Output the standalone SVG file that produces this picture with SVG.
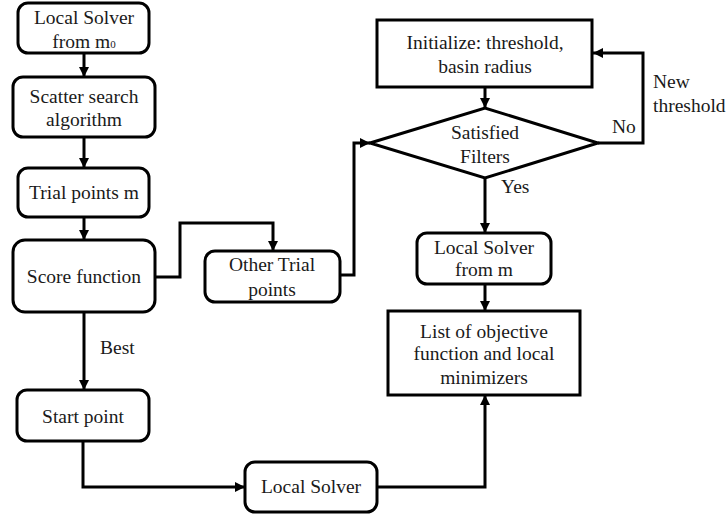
<svg xmlns="http://www.w3.org/2000/svg" width="728" height="518" viewBox="0 0 728 518" font-family="'Liberation Serif', 'Times New Roman', serif">
<defs>
<marker id="ah" viewBox="0 0 10 10" refX="10" refY="5" markerWidth="10" markerHeight="10" markerUnits="userSpaceOnUse" orient="auto">
<path d="M0,0 L10,5 L0,10 Z" fill="#000"/>
</marker>
<style>
.box{fill:#fff;stroke:#000;stroke-width:3}
.ln{fill:none;stroke:#000;stroke-width:3}
.t{font-size:19.5px;fill:#1a1a1a;text-anchor:middle}
.l{font-size:19.5px;fill:#1a1a1a}
</style>
</defs>
<rect width="728" height="518" fill="#fff"/>
<g id="connectors">
<path class="ln" d="M84,53 V77" marker-end="url(#ah)"/>
<path class="ln" d="M84,137 V168" marker-end="url(#ah)"/>
<path class="ln" d="M84,217 V240" marker-end="url(#ah)"/>
<path class="ln" d="M155,277 H180 V223 H273 V251" marker-end="url(#ah)"/>
<path class="ln" d="M340,275 H354 V143 H370" marker-end="url(#ah)"/>
<path class="ln" d="M485,87 V108" marker-end="url(#ah)"/>
<path class="ln" d="M598,143 H643 V53 H593" marker-end="url(#ah)"/>
<path class="ln" d="M485,178 V233" marker-end="url(#ah)"/>
<path class="ln" d="M485,284 V311" marker-end="url(#ah)"/>
<path class="ln" d="M84,312 V390" marker-end="url(#ah)"/>
<path class="ln" d="M83,441 V487 H245" marker-end="url(#ah)"/>
<path class="ln" d="M377,487 H485 V395" marker-end="url(#ah)"/>
<text class="l" x="100" y="354">Best</text>
<text class="l" x="612" y="133">No</text>
<text class="l" x="653" y="88">New</text>
<text class="l" x="653" y="112">threshold</text>
<text class="l" x="501" y="193">Yes</text>
</g>
<g id="n1"><rect class="box" x="18" y="3" width="131" height="50" rx="10"/>
<text class="t" x="84" y="24">Local Solver</text><text class="t" x="84" y="48">from m<tspan font-size="11">0</tspan></text></g>
<g id="n2"><rect class="box" x="13" y="77" width="142" height="60" rx="10"/>
<text class="t" x="84" y="103">Scatter search</text><text class="t" x="84" y="126">algorithm</text></g>
<g id="n3"><rect class="box" x="18" y="168" width="131" height="49" rx="10"/>
<text class="t" x="84" y="199">Trial points m</text></g>
<g id="n4"><rect class="box" x="13" y="240" width="142" height="72" rx="12"/>
<text class="t" x="84" y="283">Score function</text></g>
<g id="n5"><rect class="box" x="205" y="251" width="135" height="51" rx="10"/>
<text class="t" x="272" y="271">Other Trial</text><text class="t" x="272" y="296">points</text></g>
<g id="n6"><rect class="box" x="377" y="20" width="215" height="67"/>
<text class="t" x="485" y="49">Initialize: threshold,</text><text class="t" x="485" y="73">basin radius</text></g>
<g id="n7"><polygon class="box" points="370,143 485,108 598,143 485,178"/>
<text class="t" x="485" y="139">Satisfied</text><text class="t" x="485" y="163">Filters</text></g>
<g id="n8"><rect class="box" x="417" y="233" width="134" height="51" rx="10"/>
<text class="t" x="484" y="254">Local Solver</text><text class="t" x="484" y="276">from m</text></g>
<g id="n9"><rect class="box" x="388" y="311" width="192" height="84"/>
<text class="t" x="484" y="338">List of objective</text><text class="t" x="484" y="360">function and local</text><text class="t" x="484" y="384">minimizers</text></g>
<g id="n10"><rect class="box" x="17" y="390" width="132" height="51" rx="10"/>
<text class="t" x="83" y="423">Start point</text></g>
<g id="n11"><rect class="box" x="245" y="462" width="132" height="50" rx="10"/>
<text class="t" x="311" y="493">Local Solver</text></g>
</svg>
